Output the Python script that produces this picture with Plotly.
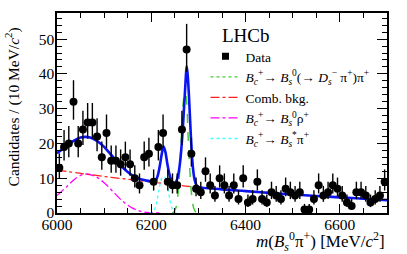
import numpy as np
import plotly.graph_objects as go

# ---------------- data ----------------
bin_centers = list(range(6005, 6700, 10))
counts = [13, 19, 20, 32, 20, 24, 26, 26, 22, 16,
          23, 15, 15, 14, 16, 14, 10, 8, 16, 17,
          9, 19, 23, 9, 8, 8, 24, 47, 17, 7,
          6, 12, 8, 5, 10, 8, 5, 8, 4, 10,
          3, 4, 9, 4, 3, 6, 5, 4, 7, 6,
          5, 6, 1, 1, 4, 8, 5, 6, 8, 7,
          5, 3, 2, 6, 6, 5, 3, 4, 5, 9]

# total fit
total_m = [6000, 6010, 6020, 6030, 6040, 6050, 6060, 6070, 6080, 6090,
           6100, 6110, 6120, 6130, 6140, 6150, 6160, 6170, 6180, 6190,
           6200, 6206, 6210, 6214, 6218, 6222, 6226, 6230, 6234, 6238,
           6242, 6246, 6250, 6254, 6258, 6262, 6266, 6270, 6273, 6275,
           6277, 6280, 6284, 6288, 6292, 6296, 6300, 6350, 6400, 6450,
           6500, 6550, 6600, 6650, 6700]
total_v = [17.2, 18.2, 19.3, 20.3, 21.1, 21.7, 21.9, 21.7, 21.1, 20.2,
           19.0, 17.5, 15.9, 14.4, 13.0, 11.8, 10.8, 10.1, 9.6, 9.3,
           9.1, 9.1, 9.4, 10.9, 13.5, 16.8, 19.1, 17.5, 14.2, 11.4,
           9.6, 8.8, 8.6, 9.4, 11.6, 15.8, 22.5, 31.5, 38.5, 42.2,
           40.0, 33.5, 22.0, 13.5, 9.5, 8.0, 7.5, 6.8, 6.3, 5.8,
           5.3, 4.9, 4.5, 4.1, 3.7]

# B_c+ -> B_s0 (-> Ds- pi+) pi+ signal
sig_m = [6244, 6248, 6252, 6256, 6260, 6264, 6268, 6272, 6275, 6278,
         6282, 6286, 6290, 6294, 6298]
sig_v = [0.0, 0.3, 1.4, 4.7, 11.8, 22.4, 31.9, 34.6, 31.9, 22.4,
         11.8, 4.7, 1.4, 0.3, 0.0]

# combinatorial background
comb_m = [6000, 6050, 6100, 6150, 6200, 6250, 6300, 6350, 6400, 6450,
          6500, 6550, 6600, 6650, 6700]
comb_v = [12.3, 11.4, 10.5, 9.7, 8.9, 8.1, 7.4, 6.8, 6.3, 5.8,
          5.3, 4.9, 4.5, 4.1, 3.7]

# B_c+ -> B_s0 rho+
rho_m = [6000, 6020, 6040, 6060, 6080, 6100, 6120, 6140, 6160, 6180, 6200, 6220]
rho_v = [5.0, 7.5, 10.0, 11.2, 10.6, 8.7, 6.0, 3.3, 1.4, 0.4, 0.1, 0.0]

# B_c+ -> B_s* pi+
bst_m = [6196, 6200, 6204, 6208, 6212, 6216, 6220, 6223, 6226, 6229,
         6232, 6236, 6240, 6244, 6248, 6252, 6256]
bst_v = [0.0, 0.1, 0.5, 1.4, 3.4, 6.4, 9.1, 10.2, 10.4, 10.2,
         9.1, 6.4, 3.4, 1.4, 0.5, 0.1, 0.0]

x_range = [6000, 6700]
y_range = [0, 57.5]
x_ticks = [6000, 6200, 6400, 6600]
y_ticks = [0, 10, 20, 30, 40, 50]

# ---------------- figure ----------------
FONT = "Liberation Serif"
n = np.array(counts, dtype=float)
err_hi = 0.5 + np.sqrt(n + 0.25)
err_lo = -0.5 + np.sqrt(n + 0.25)

fig = go.Figure()

fig.add_trace(go.Scatter(x=rho_m, y=rho_v, mode="lines", line_shape="spline",
                         line=dict(color="#ff00ff", width=1.3, dash="dashdot"),
                         showlegend=False, hoverinfo="skip"))
fig.add_trace(go.Scatter(x=comb_m, y=comb_v, mode="lines", line_shape="spline",
                         line=dict(color="#ff2020", width=1.3, dash="dashdot"),
                         showlegend=False, hoverinfo="skip"))
fig.add_trace(go.Scatter(x=bst_m, y=bst_v, mode="lines", line_shape="spline",
                         line=dict(color="#44ffff", width=1.3, dash="dot"),
                         showlegend=False, hoverinfo="skip"))
fig.add_trace(go.Scatter(x=sig_m, y=sig_v, mode="lines", line_shape="spline",
                         line=dict(color="#44cc33", width=1.5, dash="dash"),
                         showlegend=False, hoverinfo="skip"))
fig.add_trace(go.Scatter(x=total_m, y=total_v, mode="lines", line_shape="spline",
                         line=dict(color="#0a14f0", width=2.6),
                         showlegend=False, hoverinfo="skip"))
fig.add_trace(go.Scatter(x=bin_centers, y=counts, mode="markers",
                         marker=dict(color="black", size=8),
                         error_y=dict(type="data", symmetric=False, array=err_hi,
                                      arrayminus=err_lo, color="black",
                                      thickness=1.4, width=0),
                         showlegend=False))

# legend entries
fig.add_trace(go.Scatter(x=[None], y=[None], mode="markers",
                         marker=dict(color="black", size=7, symbol="square"),
                         name="Data"))
fig.add_trace(go.Scatter(x=[None], y=[None], mode="lines",
                         line=dict(color="#44cc33", width=1.3, dash="dot"),
                         name="<i>B</i><sub><i>c</i></sub><sup>+</sup>→ <i>B</i><sub><i>s</i></sub><sup>0</sup>(→ <i>D</i><sub><i>s</i></sub><sup>−</sup> π<sup>+</sup>)π<sup>+</sup>"))
fig.add_trace(go.Scatter(x=[None], y=[None], mode="lines",
                         line=dict(color="#ff2020", width=1.3, dash="dashdot"),
                         name="Comb. bkg."))
fig.add_trace(go.Scatter(x=[None], y=[None], mode="lines",
                         line=dict(color="#ff00ff", width=1.3, dash="dashdot"),
                         name="<i>B</i><sub><i>c</i></sub><sup>+</sup>→ <i>B</i><sub><i>s</i></sub><sup>0</sup>ρ<sup>+</sup>"))
fig.add_trace(go.Scatter(x=[None], y=[None], mode="lines",
                         line=dict(color="#44ffff", width=1.3, dash="dot"),
                         name="<i>B</i><sub><i>c</i></sub><sup>+</sup>→ <i>B</i><sub><i>s</i></sub><sup>*</sup>π<sup>+</sup>"))

axis_common = dict(showline=True, linecolor="black", linewidth=1.5, mirror="ticks",
                   ticks="inside", tickcolor="black", tickwidth=1.2,
                   showgrid=False, zeroline=False, automargin=False,
                   tickfont=dict(family=FONT, size=15.5, color="black"))

fig.update_xaxes(range=x_range, tickvals=x_ticks, ticklen=9, ticklabelstandoff=-3,
                 minor=dict(ticks="inside", dtick=50, ticklen=5, tickcolor="black",
                            tickwidth=1, showgrid=False),
                 **axis_common)
fig.update_yaxes(range=y_range, tickvals=y_ticks, ticklen=10, ticklabelstandoff=-2,
                 minor=dict(ticks="inside", dtick=2, ticklen=5, tickcolor="black",
                            tickwidth=1, showgrid=False),
                 **axis_common)

fig.update_layout(
    width=407, height=254,
    margin=dict(l=57, r=20, t=13, b=41, autoexpand=False),
    plot_bgcolor="white", paper_bgcolor="white",
    font=dict(family=FONT, color="black"),
    legend=dict(x=0.45, y=0.86, xanchor="left", yanchor="top",
                bgcolor="rgba(0,0,0,0)", borderwidth=0,
                font=dict(family=FONT, size=13.5, color="black"),
                itemwidth=30, tracegroupgap=2),
    annotations=[
        dict(text="LHCb", xref="paper", yref="paper", x=0.573, y=0.89,
             xanchor="center", yanchor="middle", showarrow=False,
             font=dict(family=FONT, size=19, color="black")),
        dict(text="Candidates / (10 MeV/<i>c</i><sup>2</sup>)", xref="paper", yref="paper",
             x=-0.135, y=0.53, xanchor="center", yanchor="middle", textangle=-90,
             showarrow=False, font=dict(family=FONT, size=15.5, color="black")),
        dict(text="<i>m</i>(<i>B</i><sub><i>s</i></sub><sup>0</sup>π<sup>+</sup>) [MeV/<i>c</i><sup>2</sup>]",
             xref="paper", yref="paper", x=1.0, y=-0.14,
             xanchor="right", yanchor="middle", showarrow=False,
             font=dict(family=FONT, size=17, color="black")),
    ],
)

fig.write_html("out.html", config={"displayModeBar": False},
               post_script="document.body.style.margin='0';document.body.style.padding='0';")
